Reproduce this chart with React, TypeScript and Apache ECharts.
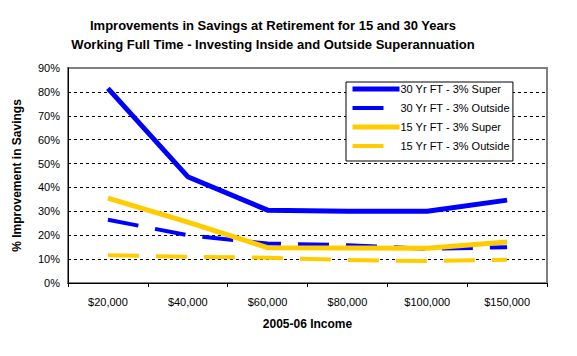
import React, { useEffect, useRef } from "react";
import * as echarts from "echarts";

const categories = ["$20,000", "$40,000", "$60,000", "$80,000", "$100,000", "$150,000"];
const super30 = [81.5, 44.5, 30.5, 30, 30, 34.7];
const outside30 = [26.5, 20, 16.5, 15.8, 14.3, 15];
const super15 = [35.5, 25.5, 14.8, 14.7, 14.5, 17.2];
const outside15 = [11.6, 11, 10.6, 9.6, 9.2, 9.7];
const yTicks = [0, 10, 20, 30, 40, 50, 60, 70, 80, 90];

const FONT = "Arial, 'Liberation Sans', sans-serif";

export default function App() {
  const ref = useRef<HTMLDivElement>(null);
  useEffect(() => {
    if (!ref.current) return;
    const chart = echarts.init(ref.current, undefined, { renderer: "svg" });
    const blue = "#0000FF";
    const yellow = "#FFCC00";
    const dash = [31, 17];
    chart.setOption({
      animation: false,
      backgroundColor: "#ffffff",
      title: {
        text: "Improvements in Savings at Retirement for 15 and 30 Years\nWorking Full Time - Investing Inside and Outside Superannuation",
        left: 268,
        textAlign: "center",
        top: 11,
        textStyle: { fontFamily: FONT, fontSize: 13, fontWeight: "bold", color: "#000", lineHeight: 19 },
      },
      legend: {
        orient: "vertical",
        left: 346,
        top: 82,
        padding: [0, 3, 8, 4],
        itemWidth: 47,
        itemHeight: 14,
        itemGap: 5,
        backgroundColor: "#fff",
        borderColor: "#000",
        borderWidth: 1,
        borderRadius: 0,
        itemStyle: { opacity: 0 },
        textStyle: { fontFamily: FONT, fontSize: 11, color: "#000", padding: [0, 0, 0, -4], lineHeight: 14, height: 14 },
        data: [
          { name: "30 Yr FT - 3% Super", lineStyle: { width: 5 } },
          { name: "30 Yr FT - 3% Outside", lineStyle: { width: 4 } },
          { name: "15 Yr FT - 3% Super", lineStyle: { width: 5 } },
          { name: "15 Yr FT - 3% Outside", lineStyle: { width: 4 } },
        ],
      },
      grid: {
        left: 68,
        right: 30,
        top: 68,
        bottom: 73,
        show: true,
        backgroundColor: "#fff",
        borderColor: "#808080",
        borderWidth: 2,
      },
      xAxis: {
        type: "category",
        data: categories,
        boundaryGap: true,
        name: "2005-06 Income",
        nameLocation: "middle",
        nameGap: 35,
        nameTextStyle: { fontFamily: FONT, fontSize: 12, fontWeight: "bold", color: "#000" },
        axisLine: { show: true, lineStyle: { color: "#000", width: 1 } },
        axisTick: { show: true, length: 4, inside: false, lineStyle: { color: "#000" } },
        axisLabel: { fontFamily: FONT, fontSize: 11, color: "#000", margin: 13 },
        splitLine: { show: false },
      },
      yAxis: {
        type: "value",
        min: 0,
        max: 90,
        interval: 10,
        name: "% Improvement in Savings",
        nameLocation: "middle",
        nameGap: 45,
        nameTextStyle: { fontFamily: FONT, fontSize: 12, fontWeight: "bold", color: "#000" },
        axisLine: { show: true, lineStyle: { color: "#000", width: 1 } },
        axisTick: { show: false },
        axisLabel: {
          fontFamily: FONT,
          fontSize: 11,
          color: "#000",
          margin: 8,
          formatter: (v: number) => (yTicks.includes(v) ? v + "%" : ""),
        },
        splitLine: {
          show: true,
          lineStyle: {
            color: ["rgba(0,0,0,0)", "#000", "#000", "#000", "#000", "#000", "#000", "#000", "#000", "rgba(0,0,0,0)"],
            type: [3, 3],
            width: 1,
          },
        },
      },
      series: [
        {
          name: "30 Yr FT - 3% Super",
          type: "line",
          data: super30,
          symbol: "none",
          color: blue,
          lineStyle: { color: blue, width: 5 },
          z: 4,
        },
        {
          name: "30 Yr FT - 3% Outside",
          type: "line",
          data: outside30,
          symbol: "none",
          color: blue,
          lineStyle: { color: blue, width: 4, type: dash, cap: "butt" },
          z: 2,
        },
        {
          name: "15 Yr FT - 3% Super",
          type: "line",
          data: super15,
          symbol: "none",
          color: yellow,
          lineStyle: { color: yellow, width: 5 },
          z: 3,
        },
        {
          name: "15 Yr FT - 3% Outside",
          type: "line",
          data: outside15,
          symbol: "none",
          color: yellow,
          lineStyle: { color: yellow, width: 4, type: dash, cap: "butt" },
          z: 2,
        },
      ],
    });
    return () => chart.dispose();
  }, []);
  return <div ref={ref} style={{ width: 577, height: 356, position: "absolute", left: 0, top: 0 }} />;
}
